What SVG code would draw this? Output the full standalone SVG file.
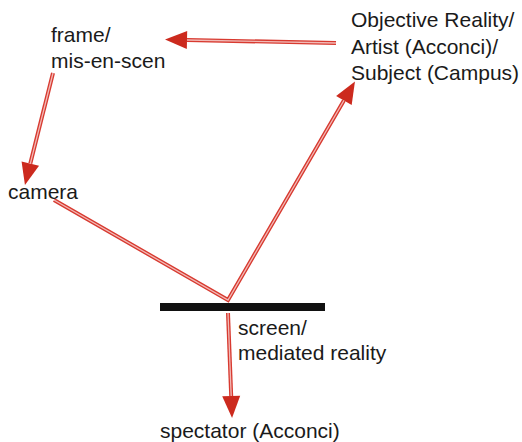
<svg xmlns="http://www.w3.org/2000/svg" width="522" height="442" viewBox="0 0 522 442">
<style>
text{font-family:"Liberation Sans",Arial,sans-serif;font-size:21px;fill:#1a1a1a}
.ln{fill:none;stroke:#d83a30;stroke-width:4;stroke-linecap:butt;stroke-linejoin:miter}
.in{fill:none;stroke:#fff;stroke-width:1.3;stroke-opacity:0.65}
</style>
<defs>
<marker id="ah" markerUnits="userSpaceOnUse" markerWidth="24" markerHeight="20" viewBox="0 -10 24 20" refX="0" refY="0" orient="auto" overflow="visible">
<path d="M0,-9 L22,0 L0,9 z" fill="#cc2a1e"/>
</marker>
</defs>
<g id="connectors">
<path class="ln" d="M336,43 L187,40" marker-end="url(#ah)"/>
<path class="in" d="M336,43 L187,40"/>
<path class="ln" d="M53,73 L30.3,163.6" marker-end="url(#ah)"/>
<path class="in" d="M53,73 L30.3,163.6"/>
<path class="ln" d="M54,200 L228,300 L343.9,100.5" marker-end="url(#ah)"/>
<path class="in" d="M54,200 L228,300 L343.9,100.5"/>
<path class="ln" d="M228,313 L231.2,396" marker-end="url(#ah)"/>
<path class="in" d="M228,313 L231.2,396"/>
</g>
<g id="frame">
<text x="51" y="41.5">frame/</text>
<text x="51" y="68">mis-en-scen</text>
</g>
<g id="objective">
<text x="351" y="27">Objective Reality/</text>
<text x="351" y="53.5">Artist (Acconci)/</text>
<text x="351" y="80">Subject (Campus)</text>
</g>
<g id="camera">
<text x="8" y="199">camera</text>
</g>
<g id="screen">
<rect x="160" y="303" width="165" height="8" fill="#111"/>
<text x="238" y="335">screen/</text>
<text x="238" y="360">mediated reality</text>
</g>
<g id="spectator">
<text x="160" y="438">spectator (Acconci)</text>
</g>
</svg>
